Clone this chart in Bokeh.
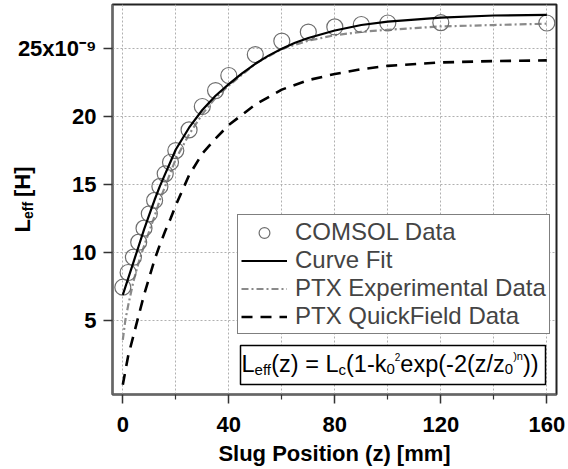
import numpy as np
from bokeh.plotting import figure
from bokeh.models import (Range1d, FixedTicker, Label, Legend, LegendItem,
                          BoxAnnotation, LinearAxis)
from bokeh.embed import file_html
from bokeh.resources import INLINE

# ---------------- data ----------------
comsol_z = [0, 2, 4, 6, 8, 10, 12, 14, 16, 18, 20, 25, 30, 35, 40, 50, 60,
            70, 80, 90, 100, 120, 160]
comsol_L = [7.47, 8.55, 9.68, 10.78, 11.81, 12.87, 13.85, 14.88, 15.81, 16.66,
            17.52, 19.04, 20.76, 21.93, 23.04, 24.58, 25.57, 26.23, 26.61,
            26.79, 26.90, 26.93, 26.90]

fit_z = [0, 2, 4, 6, 8, 10, 12, 14, 16, 18, 20, 25, 30, 35, 40, 45, 50, 55,
         60, 65, 70, 80, 90, 100, 120, 140, 160]
fit_L = [6.9, 8.1, 9.3, 10.5, 11.7, 12.8, 13.9, 14.9, 15.8, 16.7, 17.6, 19.2,
         20.5, 21.55, 22.4, 23.2, 23.9, 24.5, 25.0, 25.45, 25.8, 26.35, 26.75,
         27.0, 27.3, 27.45, 27.5]

exp_z = [0, 1, 2, 4, 6, 8, 10, 12, 14, 16, 20, 25, 30, 35, 40, 50, 60, 70,
         80, 90, 100, 120, 140, 160]
exp_L = [3.6, 5.1, 6.1, 7.9, 9.3, 10.5, 11.6, 12.7, 13.9, 14.9, 16.9, 18.7,
         20.2, 21.4, 22.3, 23.9, 25.0, 25.6, 26.0, 26.25, 26.4, 26.65, 26.75,
         26.85]

qf_z = [0, 2, 4, 6, 8, 10, 12, 14, 16, 18, 20, 25, 30, 35, 40, 50, 60, 70,
        80, 90, 100, 120, 140, 160]
qf_L = [0.3, 2.4, 3.9, 5.4, 6.9, 8.2, 9.5, 10.6, 11.6, 12.5, 13.5, 15.7,
        17.3, 18.4, 19.4, 20.9, 22.0, 22.7, 23.15, 23.5, 23.75, 24.0, 24.1,
        24.15]

x_major = [0, 40, 80, 120, 160]
x_minor = [20, 60, 100, 140]
y_major = [5, 10, 15, 20, 25]
y_top_label = "25x10\u207b\u2079"
legend_labels = ["COMSOL Data", "Curve Fit", "PTX Experimental Data",
                 "PTX QuickField Data"]
x_title = "Slug Position (z) [mm]"
y_title = "L\u2002\u2002[H]"     # gap is filled by the subscript below
y_title_sub = "eff"

FONT = "Liberation Sans"

# ---------------- layout ----------------
W, H = 568, 468
BL, BR, BT, BB = 112, 12, 4, 74
FW = W - BL - BR
FH = H - BT - BB
X0, X1 = -3.89, 163.66
Y0, Y1 = -0.42, 28.26
SY = FH / (Y1 - Y0)


def py2y(py):
    """canvas pixel row -> data y"""
    return round(Y1 - (py - BT) / SY, 3)


p = figure(width=W, height=H, output_backend="svg", toolbar_location=None,
           x_range=Range1d(X0, X1), y_range=Range1d(Y0, Y1),
           min_border_left=BL, min_border_right=BR, min_border_top=BT,
           min_border_bottom=BB)
p.background_fill_color = "white"
p.border_fill_color = "white"
p.outline_line_color = "#222222"
p.outline_line_width = 2

# axes
p.xaxis.ticker = FixedTicker(ticks=x_major, minor_ticks=x_minor)
p.yaxis.ticker = FixedTicker(ticks=y_major, minor_ticks=[])
p.yaxis.major_label_overrides = {25: y_top_label}
for ax in (p.xaxis[0], p.yaxis[0]):
    ax.axis_line_color = "#666666"
    ax.axis_line_width = 2
    ax.major_tick_line_color = "#333333"
    ax.major_tick_line_width = 1.5
    ax.major_tick_out = 9
    ax.major_tick_in = 0
    ax.minor_tick_line_color = "#333333"
    ax.minor_tick_line_width = 1.2
    ax.minor_tick_out = 5
    ax.minor_tick_in = 0
    ax.major_label_text_font = FONT
    ax.major_label_text_font_style = "bold"
    ax.major_label_text_font_size = "22px"
    ax.major_label_text_color = "black"
    ax.axis_label_text_font = FONT
    ax.axis_label_text_font_style = "bold"
    ax.axis_label_text_font_size = "22px"
    ax.axis_label_text_color = "black"
p.yaxis.minor_tick_line_color = None
p.xaxis.major_label_standoff = 13
p.yaxis.major_label_standoff = 7
p.xaxis.axis_label = x_title
p.xaxis.axis_label_standoff = 6
p.yaxis.axis_label = y_title
p.yaxis.axis_label_standoff = -20

# subscript "eff" of the y title: an extra (label only) axis
sub_ax = LinearAxis(ticker=FixedTicker(ticks=[py2y(210.0)], minor_ticks=[]),
                    major_label_overrides={py2y(210.0): y_title_sub},
                    axis_line_color=None, major_tick_line_color=None,
                    minor_tick_line_color=None, major_tick_out=0,
                    major_tick_in=0, minor_tick_out=0, minor_tick_in=0,
                    major_label_standoff=-30, major_label_text_font=FONT,
                    major_label_text_font_size="14px",
                    major_label_text_font_style="bold",
                    major_label_text_color="black",
                    major_label_orientation="vertical")
p.add_layout(sub_ax, "left")

# grids
for g in (p.xgrid, p.ygrid):
    g.grid_line_color = "#b0b0b0"
    g.grid_line_dash = "2 2"
    g.grid_line_width = 1
p.xgrid.minor_grid_line_color = "#b0b0b0"
p.xgrid.minor_grid_line_dash = "2 2"
p.xgrid.minor_grid_line_width = 1

# series
r_q = p.line(qf_z, qf_L, line_color="black", line_width=2.6, line_dash="11 8")
r_e = p.line(exp_z, exp_L, line_color="#8a8a8a", line_width=2.2,
             line_dash="7 3 2 3")
r_c = p.scatter(comsol_z, comsol_L, marker="circle", size=16, fill_color=None,
                line_color="#6e6e6e", line_width=1.2)
r_f = p.line(fit_z, fit_L, line_color="black", line_width=2.2)

legend = Legend(items=[LegendItem(label=legend_labels[0], renderers=[r_c]),
                       LegendItem(label=legend_labels[1], renderers=[r_f]),
                       LegendItem(label=legend_labels[2], renderers=[r_e]),
                       LegendItem(label=legend_labels[3], renderers=[r_q])],
                location=(125, 60))
legend.label_text_font = FONT
legend.label_text_font_size = "24px"
legend.label_height = 27
legend.glyph_height = 27
legend.glyph_width = 46
legend.label_standoff = 8
legend.padding = 3
legend.spacing = 0
legend.margin = 0
legend.border_line_color = "black"
legend.border_line_width = 1.5
legend.background_fill_color = "white"
legend.background_fill_alpha = 1.0
p.add_layout(legend)

# formula box
box = BoxAnnotation(left=128, right=433, top=49, bottom=10,
                    left_units="screen", right_units="screen",
                    top_units="screen", bottom_units="screen",
                    fill_color="white", fill_alpha=1.0,
                    line_color="black", line_width=1.5, line_alpha=1.0)
p.add_layout(box)

W_REG = {'L': 556, 'e': 556, 'f': 278, '(': 333, 'z': 500, ')': 333, ' ': 278,
         '=': 584, 'c': 500, '1': 556, '-': 333, 'k': 500, '0': 556, '2': 556,
         'x': 500, 'p': 556, '/': 278, 'n': 556}


def tw(s, size, table):
    return sum(table[c] for c in s) * size / 1000.0


pieces = [("L", 23.5, 0), ("eff", 15, -5), ("(z) = L", 23.5, 0),
          ("c", 15, -5), ("(1-k", 23.5, 0), ("0", 15, -5), ("2", 10, 7),
          ("exp(-2(z/z", 23.5, 0), ("0", 15, -5), (")", 11, 8),
          ("n", 11, 8), ("))", 23.5, 0)]
cx = 129.0
base = 30.5
for txt, sz, dy in pieces:
    p.add_layout(Label(x=cx, y=base + dy, x_units="screen", y_units="screen",
                       text=txt, text_font=FONT, text_font_size=f"{sz}px",
                       text_align="left", text_baseline="alphabetic",
                       text_color="black"))
    cx += tw(txt, sz, W_REG)

open("out.html", "w").write(file_html(p, INLINE))
